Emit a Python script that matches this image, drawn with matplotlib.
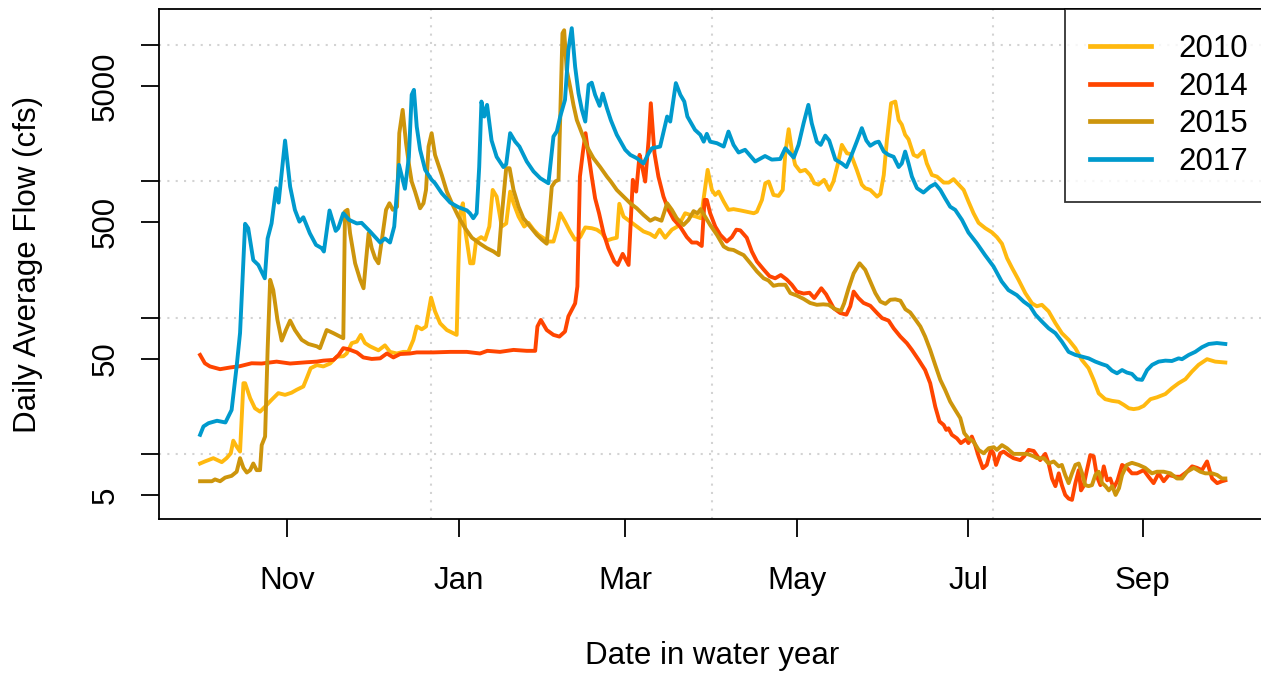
import numpy as np
import matplotlib
matplotlib.use("Agg")
import matplotlib.pyplot as plt
from matplotlib.ticker import NullLocator

# Day of water year (0 = Oct 1) and daily average flow (cfs)
days_2010 = [0, 1.7, 4.7, 7.7, 9.4, 10.9, 11.8, 13, 14.2, 15.4, 16, 17.8, 19.5, 21.3, 23.1, 25.4,
             27.8, 30.2, 32.5, 34.3, 36.7, 37.9, 39.3, 41.5, 43.8, 46.2, 48.6, 50.9, 52.1, 53.9,
             55.7, 57.1, 58.6, 60.4, 63.4, 65.7, 67.5, 69.9, 72.2, 74, 75.8, 77, 78.8, 80.3, 82.1,
             83.5, 85.3, 87.7, 90, 91.2, 91.8, 92.4, 93.4, 94.4, 96, 97.1, 98.1, 99.9, 101.3,
             102.8, 104, 105.4, 107.2, 108.8, 110.2, 111.4, 113.2, 115.2, 116.7, 118.5, 120.3,
             122.1, 123.8, 125.6, 126.8, 128, 129.7, 131.5, 133.3, 135.1, 136.9, 139.2, 141,
             142.8, 144.6, 146.4, 148.1, 149, 150.5, 152.9, 155.2, 157.6, 159.9, 161.7, 163.3,
             165.3, 167.7, 170, 172.4, 174.2, 176.3, 178, 179, 180.4, 181.9, 183.1, 184.3, 186.1,
             187.8, 189.6, 192, 194.3, 196.8, 197.9, 199.7, 200.9, 202.1, 203.8, 205.6, 207.1,
             208, 209.2, 210.3, 211.5, 213.3, 215.1, 216.8, 218.3, 219.8, 221.8, 223.7, 225.1,
             226.6, 228.1, 229.9, 231.3, 233.4, 235.2, 236.4, 238.2, 240.6, 241.8, 243, 244.1,
             245.6, 247.1, 248.3, 249.4, 250.6, 251.8, 253.6, 255, 257.1, 258.3, 260.1, 261.9,
             264.3, 266.1, 267.8, 269.6, 271.4, 273.1, 274.9, 276.7, 279.1, 281.4, 283.2, 285,
             286.8, 288.6, 290.9, 293.3, 295.7, 297.4, 299.2, 301.6, 304, 306.3, 308.7, 311.1,
             313.4, 315.8, 317.6, 319.4, 321.7, 324.1, 326.5, 328.3, 330.1, 331.8, 333.6, 335.4,
             337.8, 340.1, 343.1, 345.4, 347.8, 350.2, 352.5, 354.9, 357.9, 360.8, 364.4]
cfs_2010 = [8.5, 8.8, 9.3, 8.7, 9.3, 10.1, 12.5, 11.3, 10.4, 33, 33, 25.6, 21.6, 20.4, 22.2, 24.9,
            27.9, 27.1, 28.1, 29.5, 31.2, 35.9, 42.5, 44.8, 43.8, 46, 51.7, 52, 54.5, 64.9,
            66.6, 74.6, 65, 61.5, 57.5, 62.5, 56, 54.5, 56, 56, 68.5, 86, 82, 86, 140,
            111, 90.8, 81, 76.8, 74.6, 237, 582, 689, 416, 250, 250, 367, 389, 372,
            465, 863, 771, 465, 490, 839, 689, 550, 465, 495, 441, 404,
            382, 361, 361, 441, 582, 505, 428, 372, 389, 458, 452, 441,
            416, 367, 378, 385, 683, 550, 505, 465, 428, 411, 389, 441,
            385, 441, 470, 582, 566, 550, 535, 749, 1211, 863, 793, 839, 709,
            616, 624, 611, 597, 582, 597, 729, 966, 994, 793, 780, 863,
            1603, 2406, 1700, 1318, 1180, 1211, 1111, 966, 944, 1023, 863, 994,
            1318, 1847, 1603, 1580, 1211, 944, 889, 863, 771, 807, 1111, 1990,
            3730, 3838, 2810, 2600, 2190, 2030, 1560, 1510, 1670, 1350, 1111, 1081,
            977, 977, 1035, 944, 863, 709, 582, 495, 452, 422, 389, 348,
            273, 231, 189, 151, 127, 121, 124, 111, 91, 76.8, 68.7, 59.6,
            48.9, 42.5, 34.9, 27.8, 25.2, 24.5, 24.1, 22.9, 21.6, 21.3, 21.6, 22.5,
            25.2, 26, 27.5, 30.3, 33, 35.3, 40.1, 45, 49.5, 47.5, 46.8]

days_2014 = [0, 1.7, 3.5, 7.1, 10.6, 14.2, 18.3, 21.9, 27.2, 32, 37.9, 41.5, 43.8, 47.4, 49.2,
             50.9, 52.7, 55.7, 58, 61, 64, 66.4, 68.7, 71.1, 74.6, 77, 82.9, 88.9, 94.8, 99.5,
             102.1, 106.6, 111.4, 116.1, 119.1, 119.9, 121.1, 123.2, 125.6, 127.7, 129.7, 130.9,
             132.1, 133.3, 134.1, 135, 136, 137, 137.9, 139.2, 140.4, 141.8, 143.4, 145.1,
             147.2, 148.4, 150.2, 152.3, 153.8, 155, 156.2, 157, 158.2, 159.4, 160.2, 161.5,
             162.9, 164.7, 166.5, 168.3, 170.6, 173, 174.8, 176.6, 178.3, 179.3, 180.1, 181.3,
             183.1, 184.9, 187.2, 189, 190.6, 192, 194.3, 196.1, 197.9, 200.3, 202.4, 204.4,
             206.4, 208.5, 210.3, 212.1, 214.5, 216.6, 218.3, 220.8, 222.5, 224, 225.2, 227.5,
             229.7, 231.1, 232.3, 234, 235.8, 238.2, 240.6, 242.4, 244.7, 246.5, 248.9, 251.2,
             253, 255.4, 257.7, 259.5, 261.3, 262.8, 264.3, 265.2, 266, 267.2, 269, 270.4,
             272.3, 273.1, 274.3, 275.5, 276.7, 278.2, 279.6, 281.1, 282, 282.9, 284.4, 285.6,
             287.3, 289.1, 291.5, 292.9, 294.5, 296.3, 298.6, 300.4, 301.6, 302.8, 304, 305.2,
             306.3, 307.5, 308.7, 309.9, 311.1, 312.3, 313.1, 314, 315.2, 316.4, 317.6, 318.8,
             320, 321.2, 322.4, 323.5, 324.7, 326.1, 327.7, 329.4, 331.2, 333, 335.4, 337.1,
             338.9, 340.7, 342.5, 344.3, 346.7, 348.4, 350.8, 352.6, 354.3, 356.1, 357.9, 359.7,
             361.5, 363.2, 364.4]
cfs_2014 = [53.2, 46.2, 43.8, 41.8, 43, 44, 46.2, 46, 47.5, 46, 47, 47.5, 48.3, 48.9, 53,
            59.6, 58.6, 55.5, 51, 49.7, 50.2, 54.5, 51, 54, 54.5, 55.5, 55.5, 56, 56, 54.5,
            57, 56, 57.9, 57, 57, 86, 96, 81, 74.6, 72.5, 79, 102,
            114, 127, 169, 1081, 1603, 2250, 1650, 1081, 749, 582, 416, 323,
            258, 243, 293, 243, 1023, 839, 1560, 1318, 994, 1990, 3730, 1603,
            1081, 771, 616, 525, 465, 389, 355, 355, 335, 729, 729, 582,
            465, 404, 361, 389, 441, 436, 385, 305, 258, 225, 201, 194,
            205, 190, 174, 155, 150, 152, 139, 164, 148, 130, 117, 108,
            105, 121, 155, 139, 128, 122, 108, 99, 95, 83.4, 72.5, 64.9,
            57.9, 48.9, 41.2, 33, 22.2, 17.3, 16.3, 15, 15.4, 13.8, 13, 12,
            12.8, 12, 13.4, 11.6, 9.6, 7.85, 8.3, 10.7, 10.1, 8.3, 10.1, 10.4,
            9.8, 9.3, 9.0, 9.6, 10.7, 10.5, 9.0, 10, 8.5, 6.6, 5.8, 7.2,
            5.9, 5.0, 4.7, 4.6, 6.1, 7.6, 5.4, 5.8, 7.6, 9.8, 9.6, 6.8,
            5.9, 8.1, 6.4, 6.6, 5.6, 6.4, 8.3, 7.9, 7.2, 7.2, 7.6, 6.8,
            6.1, 7.2, 6.3, 7.0, 6.8, 6.8, 7.4, 8.1, 7.9, 7.6, 8.8, 6.6,
            6.1, 6.3, 6.4]

days_2015 = [0, 4.2, 5.3, 7.1, 8.9, 11.2, 13, 14.2, 15.4, 16.6, 17.8, 18.9, 20.1, 21.3, 21.9,
             23.1, 24, 24.9, 26, 27.5, 29, 30.5, 32, 33.7, 36.1, 38.5, 41.5, 42.6, 45, 47.4,
             50.9, 51.5, 52.4, 53.3, 55.1, 56.9, 58.1, 59, 59.9, 61, 62.2, 63.4, 64.6, 66.1,
             67.3, 68.5, 70, 70.8, 72, 73.2, 74.3, 75.2, 76.4, 78.2, 79.4, 80.3, 81.2, 82.3,
             83.5, 84.7, 85.9, 87.7, 89.5, 91.8, 94.2, 96.6, 99.5, 101.9, 104.3, 106.1, 107.2,
             108.8, 110, 111.4, 113.2, 114.9, 117.3, 119.7, 121.5, 123.2, 124.2, 125, 126.2,
             127.4, 128, 128.8, 129.4, 130.3, 131.5, 132.7, 133.9, 135.7, 137.5, 139.8, 142.2,
             144.6, 146, 148.1, 150.5, 152.9, 155.2, 157.6, 160, 161.7, 164, 166, 167.7, 169.4,
             171.8, 173.6, 175.4, 176.8, 177.9, 179.5, 181.3, 183.7, 186.1, 187.8, 189.6, 191.4,
             193.2, 195.6, 197.9, 200.3, 202, 203.8, 205.6, 208, 209.8, 212.1, 214.5, 216.8,
             219.2, 221.5, 223.4, 225.8, 227.8, 228.9, 230.5, 232.3, 234.4, 236.4, 238.2, 240,
             241.8, 243.6, 245.3, 247.1, 248.9, 250.7, 252.4, 254.2, 256, 257.7, 259.5, 261.3,
             263.1, 264.8, 266.6, 268.4, 270.2, 271.6, 273.1, 274.9, 276.7, 278.5, 280.3, 282.1,
             283.2, 285, 286.8, 289.1, 291.5, 293.9, 296.3, 297.5, 299.9, 301.6, 303.4, 305.2,
             306.3, 307.5, 308.7, 309.9, 311.1, 312.3, 313.5, 314.6, 315.8, 317, 318.2, 319.4,
             320.6, 321.8, 323, 324.2, 325.4, 326.6, 327.7, 329.4, 331.2, 333.6, 335.9, 338.3,
             340.1, 342.5, 344.9, 347.2, 349, 350.8, 353.2, 355.5, 357.3, 359.7, 361.5, 363.2,
             364.4]
cfs_2015 = [6.3, 6.3, 6.5, 6.3, 6.7, 6.9, 7.4, 9.3, 7.9, 7.3, 7.6, 8.5, 7.6, 7.6, 11.6,
            13.4, 58, 189, 159, 96, 67.8, 81, 95, 81, 68.7, 64, 61.5, 59.6, 81, 76.8,
            70.5, 600, 617, 415, 250, 189, 164, 265, 415, 323, 273, 250, 371, 617,
            689, 617, 650, 2250, 3335, 1900, 1300, 994, 839, 633, 689, 863, 1795, 2250,
            1560, 1318, 1111, 839, 689, 550, 452, 385, 348, 323, 305, 287, 550,
            1245, 1245, 863, 650, 535, 465, 404, 372, 348, 582, 912, 994,
            1023, 2980, 12160, 12800, 6560, 4950, 3630, 2810, 2250, 1795, 1475, 1270,
            1081, 994, 863, 771, 689, 633, 566, 513, 535, 513, 689, 616, 535,
            477, 520, 603, 582, 624, 550, 477, 404, 332, 317, 313, 299,
            287, 250, 218, 194, 187, 171, 174, 174, 151, 145, 137, 128,
            124, 125, 124, 115, 112, 127, 164, 211, 250, 224, 184, 151,
            131, 126, 135, 136, 133, 115, 109, 97, 86, 72.5, 57.9, 44.8,
            34.9, 29.5, 24.2, 21, 18.3, 14.2, 13, 12.3, 10.7, 10.1, 11, 11.2,
            10.7, 11.6, 11, 10, 10, 10, 9.6, 9.3, 9.3, 8.5, 8.8, 8.1,
            8.3, 7.0, 6.1, 7.2, 8.3, 8.5, 7.2, 5.9, 5.8, 5.9, 7.0, 7.4,
            6.1, 5.8, 5.4, 5.8, 5.0, 5.6, 7.0, 8.3, 8.6, 8.3, 7.9, 7.2,
            7.4, 7.4, 7.2, 6.6, 6.6, 7.4, 7.9, 7.4, 7.2, 7.2, 7.0, 6.6,
            6.6]

days_2017 = [0, 1.2, 3, 6, 9, 11.2, 13, 14.2, 15, 16, 17.1, 18.9, 20.7, 23, 24, 25.4, 27, 27.9,
             30.2, 32, 33.7, 35.3, 36.7, 39, 41.2, 43.2, 44, 46, 48.2, 49.1, 50.9, 53, 55.7,
             57.4, 60.4, 64, 65.7, 67.5, 69, 70.7, 72.8, 74.2, 75.2, 76, 77, 78.2, 80, 82.3,
             83.5, 85.9, 88.9, 91.8, 94.8, 95.9, 97.1, 98.3, 99.2, 100, 101, 102, 103.6, 105.4,
             107.8, 108.8, 110.2, 112, 113.5, 116.1, 118.5, 120.9, 123.8, 125.6, 126.8, 128,
             129.7, 130.9, 132.1, 133.3, 134.5, 135.7, 136.9, 138.1, 139.2, 140.4, 142, 143.1,
             144.6, 146, 148.1, 151.1, 152.9, 155.2, 157.6, 159.4, 160.6, 163.5, 166, 167.1,
             169.1, 170.7, 172.1, 173.2, 175.9, 177.8, 179, 180.1, 181.3, 183.7, 186.1, 187.8,
             189.6, 191.4, 193.7, 197.3, 200.8, 203.2, 206.2, 208, 211, 212.7, 214.5, 216.2,
             217.4, 219.2, 220.6, 222.2, 223.6, 225.8, 228.1, 229.7, 231.3, 233.4, 235.2, 236.8,
             238.2, 240, 241.2, 243, 244.7, 246.5, 248.3, 249.4, 250.6, 251.8, 253, 254.8,
             257.1, 259.5, 261.3, 263.1, 264.8, 266.6, 268.4, 270.8, 273.1, 276.1, 279, 282,
             284.9, 287.3, 290.3, 292.7, 295, 296.9, 299.2, 301.6, 304, 306.3, 308.7, 311.1,
             313.4, 315.8, 318.2, 320.6, 322.3, 324.1, 325.9, 327.7, 329.4, 331.2, 333, 334.8,
             336.6, 338.4, 340.7, 343.1, 345.4, 347.8, 349, 351.4, 353.7, 356.1, 358.5, 361.4,
             364.4]
cfs_2017 = [13.8, 15.9, 16.8, 17.5, 17, 21, 44, 77, 178, 487, 452, 264, 243, 194, 380, 490, 889, 697,
            1986, 912, 616, 505, 544, 415, 341, 323, 305, 610, 432, 452, 582, 520, 490,
            495, 428, 355, 380, 355, 465, 1318, 880, 1500, 4300, 4677, 2512, 1700, 1211, 1023,
            966, 816, 697, 645, 611, 582, 535, 582, 1270, 3838, 2980, 3630, 1990, 1510,
            1270, 1330, 2250, 1950, 1795, 1395, 1180, 1052, 966, 2128, 2320, 2980,
            3950, 9190, 13250, 6920, 4420, 3335, 2737, 5090, 5280, 4300, 3570, 4390,
            3430, 2800, 2190, 1700, 1560, 1475, 1350, 1600, 1745, 1795, 2980, 2737,
            5240, 4300, 3838, 2980, 2380, 2190, 1950, 2225, 1950, 1900, 1795, 2312,
            1847, 1623, 1700, 1395, 1530, 1440, 1455, 1745, 1490, 1847, 2660, 3630,
            2660, 1950, 1847, 2160, 1990, 1440, 1350, 1270, 1510, 1950, 2450, 1990,
            1820, 1920, 1950, 1650, 1560, 1510, 1270, 1350, 1650, 1350, 1081, 889,
            826, 912, 956, 863, 749, 650, 616, 520, 420, 350, 287, 237,
            184, 159, 146, 131, 121, 105, 93.5, 83.4, 76.8, 66.6, 56, 53.2,
            51.7, 50.2, 47.5, 45.5, 44.3, 40.8, 39, 41.2, 39.5, 38.6, 35.3, 34.9,
            41.2, 45, 47.5, 48.3, 48, 50.2, 49.5, 53.2, 56, 60.6, 64, 65,
            64]

years = ["2010", "2014", "2015", "2017"]
colors = ["#FFB90F", "#FF4500", "#CD950C", "#009ACD"]
series_days = [days_2010, days_2014, days_2015, days_2017]
series_cfs = [cfs_2010, cfs_2014, cfs_2015, cfs_2017]

month_days = [31, 92, 151, 212, 273, 335]
month_labels = ["Nov", "Jan", "Mar", "May", "Jul", "Sep"]
grid_days = [82, 182, 282]
y_ticks = [5, 10, 50, 100, 500, 1000, 5000, 10000]
y_labels = ["5", "", "50", "", "500", "", "5000", ""]
y_grid = [10, 100, 1000, 10000]

plt.rcParams["font.family"] = ["Liberation Sans", "DejaVu Sans"]
fs = 22.5

W, H = 1261, 673
fig = plt.figure(figsize=(W / 100, H / 100), dpi=100)
ax = fig.add_axes([159.3 / W, 1 - 519 / H, (1265 - 159.3) / W, (519 - 9.4) / H])

# dotted light grey grid, like R's grid()
for d in grid_days:
    ax.axvline(d, color="#D3D3D3", lw=1.5, ls=(0, (1, 3)), zorder=0)
for v in y_grid:
    ax.axhline(v, color="#D3D3D3", lw=1.5, ls=(0, (1, 3)), zorder=0)

for d, q, c, yr in zip(series_days, series_cfs, colors, years):
    ax.plot(np.array(d), np.array(q), color=c, lw=2.8, label=yr, zorder=2,
            solid_joinstyle="round")

ax.set_yscale("log")
ax.set_xlim(-14.5, 378.5)
ax.set_ylim(3.33, 18200)
ax.set_xticks(month_days, month_labels)
ax.set_yticks(y_ticks, y_labels)
ax.yaxis.set_minor_locator(NullLocator())
ax.xaxis.set_minor_locator(NullLocator())

for s in ax.spines.values():
    s.set_linewidth(1.3)
ax.tick_params(axis="both", length=13, width=1.3, labelsize=fs, direction="out")
ax.tick_params(axis="x", pad=21)
ax.tick_params(axis="y", pad=15)
for lab in ax.get_yticklabels():
    lab.set_rotation(90)
    lab.set_va("center")
    lab.set_ha("right")

fig.text(28 / W, 1 - 264 / H, "Daily Average Flow (cfs)", rotation=90,
         ha="center", va="center", fontsize=fs)
fig.text(712 / W, 1 - 656 / H, "Date in water year", ha="center", va="center",
         fontsize=fs)

# legend box runs off the right edge of the canvas, as in the original
leg = ax.legend(loc="upper right", bbox_to_anchor=(1 + 8 / 1105.7, 1), borderaxespad=0,
                fontsize=fs, frameon=True, fancybox=False, handlelength=1.95,
                handletextpad=0.86, labelspacing=0.24, borderpad=0.8)
leg.get_frame().set_edgecolor("black")
leg.get_frame().set_linewidth(1.3)
for line in leg.get_lines():
    line.set_linewidth(3.4)

fig.savefig("out.png", dpi=100)
